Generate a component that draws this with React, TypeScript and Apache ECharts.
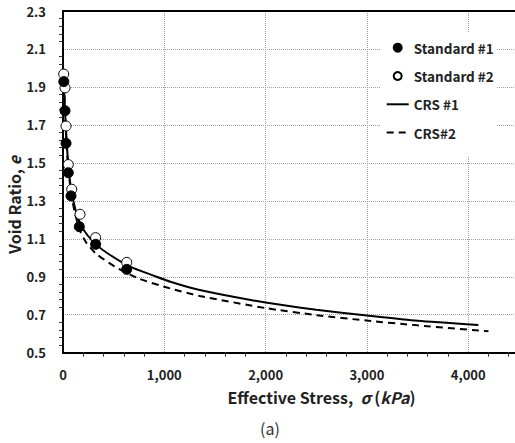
import React, { useEffect, useRef } from "react";
import * as echarts from "echarts";

const stdStress1 = [8, 20, 30, 52, 79, 161, 322, 629];
const stdVoid1 = [1.928, 1.775, 1.603, 1.448, 1.326, 1.164, 1.071, 0.939];
const stdStress2 = [7, 20, 30, 52, 86, 168, 322, 629];
const stdVoid2 = [1.968, 1.895, 1.694, 1.491, 1.361, 1.229, 1.106, 0.976];

const crs1Stress = [5, 10, 20, 30, 45, 60, 80, 120, 170, 240, 330, 450, 660, 900, 1060, 1350, 2000, 2500, 3000, 3500, 4100];
const crs1Void = [1.96, 1.9, 1.78, 1.67, 1.54, 1.45, 1.36, 1.26, 1.18, 1.12, 1.068, 1.02, 0.953, 0.905, 0.874, 0.83, 0.764, 0.726, 0.696, 0.668, 0.646];
const crs2Stress = [5, 10, 20, 30, 45, 60, 80, 120, 170, 234, 330, 513, 750, 1056, 1350, 2000, 2500, 3000, 3500, 4200];
const crs2Void = [1.98, 1.91, 1.77, 1.65, 1.52, 1.43, 1.34, 1.23, 1.14, 1.076, 1.02, 0.953, 0.89, 0.839, 0.799, 0.735, 0.698, 0.669, 0.644, 0.613];

const seriesNames = ["Standard #1", "Standard #2", "CRS #1", "CRS#2"];

const zip = (xs: number[], ys: number[]) => xs.map((x, i) => [x, ys[i]]);

const FONT = "'Noto Sans CJK KR', 'Noto Sans', sans-serif";

export default function App() {
  const ref = useRef<HTMLDivElement>(null);
  useEffect(() => {
    if (!ref.current) return;
    const chart = echarts.init(ref.current, null, { renderer: "svg" });
    const gridLine = { show: true, lineStyle: { color: "#a0a0a0", type: "dotted" as const, width: 1 } };
    chart.setOption({
      animation: false,
      backgroundColor: "#fff",
      grid: { left: 63, top: 11, width: 506.5, height: 341.7, containLabel: false, outerBoundsMode: "none" },
      xAxis: [
        {
          type: "value",
          min: 0,
          max: 5000,
          interval: 1000,
          axisLine: { show: true, onZero: false, lineStyle: { color: "#000", width: 2 } },
          axisTick: { show: false },
          minorTick: { show: true, splitNumber: 5, length: 4, lineStyle: { color: "#333", width: 1 } },
          axisLabel: {
            margin: 15,
            showMaxLabel: false,
            color: "#222",
            fontFamily: FONT,
            fontWeight: "bold",
            fontSize: 13,
            formatter: (v: number) => (v >= 5000 ? "" : v.toLocaleString("en-US")),
          },
          splitLine: gridLine,
        },
        {
          type: "value",
          position: "top",
          min: 0,
          max: 5000,
          axisLine: { show: true, onZero: false, lineStyle: { color: "#000", width: 2 } },
          axisTick: { show: false },
          axisLabel: { show: false },
          splitLine: { show: false },
        },
      ],
      yAxis: {
        type: "value",
        min: 0.5,
        max: 2.3,
        interval: 0.2,
        axisLine: { show: true, onZero: false, lineStyle: { color: "#000", width: 2 } },
        axisTick: { show: false },
        minorTick: { show: true, splitNumber: 5, length: 4, lineStyle: { color: "#333", width: 1 } },
        axisLabel: {
          margin: 17,
          color: "#222",
          fontFamily: FONT,
          fontWeight: "bold",
          fontSize: 13,
          formatter: (v: number) => v.toFixed(1),
        },
        splitLine: gridLine,
      },
      legend: {
        data: [
          { name: seriesNames[0] },
          { name: seriesNames[1] },
          { name: seriesNames[2], itemStyle: { opacity: 0 } },
          { name: seriesNames[3], itemStyle: { opacity: 0 } },
        ],
        orient: "vertical",
        left: 380,
        top: 33,
        padding: [6.7, 3, 16.3, 5.7],
        backgroundColor: "#fff",
        itemWidth: 22,
        itemHeight: 8,
        itemGap: 12.3,
        textStyle: { fontFamily: FONT, fontWeight: "bold", fontSize: 13.5, color: "#222", lineHeight: 16 },
      },
      series: [
        {
          name: seriesNames[0],
          type: "scatter",
          z: 5,
          symbol: "circle",
          symbolSize: 10,
          itemStyle: { color: "#000", borderColor: "#000", borderWidth: 1, opacity: 1 },
          data: zip(stdStress1, stdVoid1),
        },
        {
          name: seriesNames[1],
          type: "scatter",
          z: 4,
          symbol: "circle",
          symbolSize: 10,
          itemStyle: { color: "#fff", borderColor: "#000", borderWidth: 1, opacity: 1 },
          data: zip(stdStress2, stdVoid2),
        },
        {
          name: seriesNames[2],
          type: "line",
          z: 3,
          symbol: "none",
          smooth: 0.2,
          lineStyle: { color: "#000", width: 2, type: "solid" },
          itemStyle: { color: "#000" },
          data: zip(crs1Stress, crs1Void),
        },
        {
          name: seriesNames[3],
          type: "line",
          z: 3,
          symbol: "none",
          smooth: 0.2,
          lineStyle: { color: "#000", width: 2, type: [7, 5] },
          itemStyle: { color: "#000" },
          data: zip(crs2Stress, crs2Void),
        },
      ],
      graphic: [
        {
          type: "text",
          x: 321.5,
          y: 396.7,
          style: {
            text: "{b|Effective Stress,  }{i|σ}{b| (}{i|kPa}{b|)}",
            align: "center",
            verticalAlign: "middle",
            rich: {
              b: { fontFamily: FONT, fontWeight: "bold", fontSize: 16, fill: "#222" },
              i: { fontFamily: FONT, fontWeight: "bold", fontStyle: "italic", fontSize: 16, fill: "#222" },
            },
          },
        },
        {
          type: "text",
          x: 14,
          y: 205,
          rotation: Math.PI / 2,
          style: {
            text: "{b|Void Ratio, }{i|e}",
            align: "center",
            verticalAlign: "middle",
            rich: {
              b: { fontFamily: FONT, fontWeight: "bold", fontSize: 16, fill: "#222" },
              i: { fontFamily: FONT, fontWeight: "bold", fontStyle: "italic", fontSize: 16, fill: "#222" },
            },
          },
        },
        {
          type: "text",
          x: 270,
          y: 428,
          style: {
            text: "(a)",
            align: "center",
            verticalAlign: "middle",
            fontFamily: FONT,
            fontSize: 16,
            fill: "#333",
          },
        },
      ],
    });
    return () => chart.dispose();
  }, []);
  return <div ref={ref} style={{ position: "fixed", left: 0, top: 0, width: 515, height: 443 }} />;
}
